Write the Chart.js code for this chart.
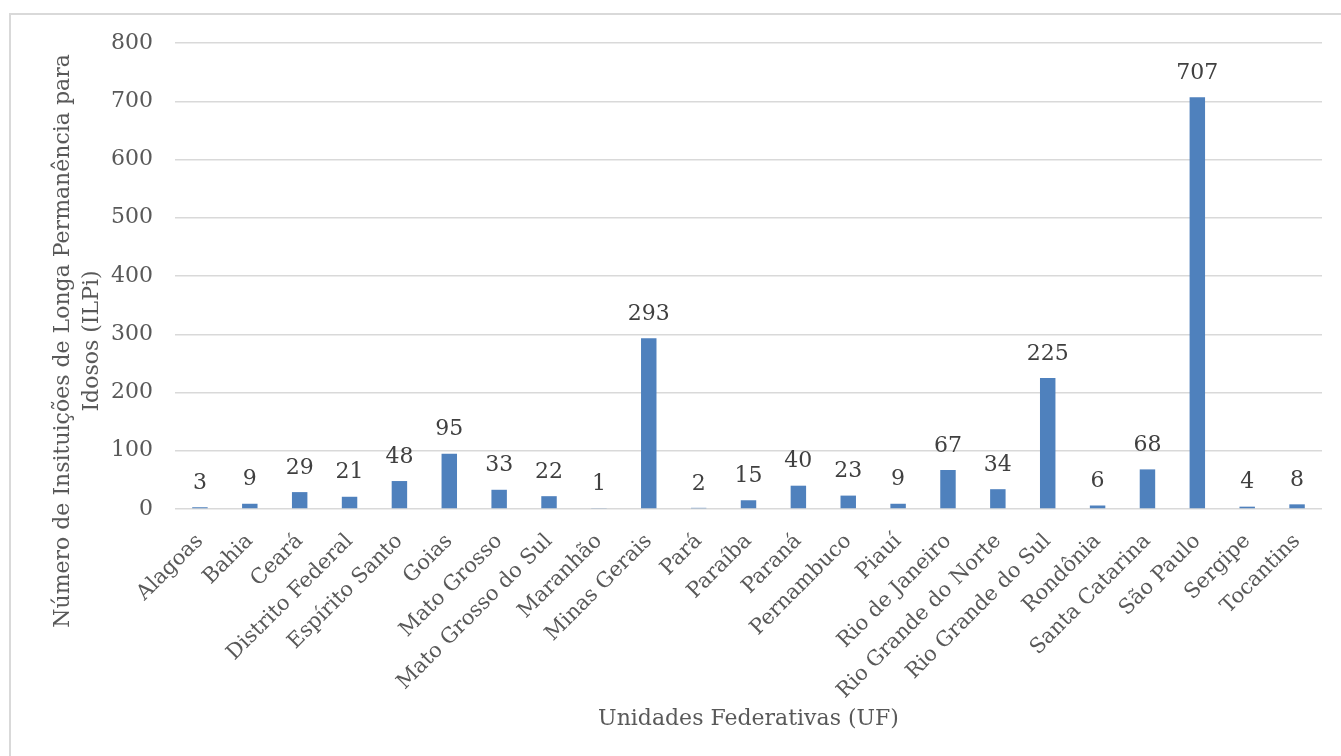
<!DOCTYPE html>
<html>
<head>
<meta charset="utf-8">
<script src="https://cdn.jsdelivr.net/npm/chart.js@4"></script>
<style>
  body { margin: 0; background: #fff; overflow: hidden; }
  #frame { position: absolute; left: 9px; top: 13px; width: 1400px; height: 800px; border: 2px solid #d9d9d9; }
  #myChart { position: absolute; left: 0; top: 0; }
</style>
</head>
<body>
<div id="frame"></div>
<canvas id="myChart" width="1341" height="756"></canvas>
<script>
const states = ['Alagoas', 'Bahia', 'Ceará', 'Distrito Federal', 'Espírito Santo', 'Goias', 'Mato Grosso',
  'Mato Grosso do Sul', 'Maranhão', 'Minas Gerais', 'Pará', 'Paraíba', 'Paraná', 'Pernambuco', 'Piauí',
  'Rio de Janeiro', 'Rio Grande do Norte', 'Rio Grande do Sul', 'Rondônia', 'Santa Catarina', 'São Paulo',
  'Sergipe', 'Tocantins'];
const ilpiCount = [3, 9, 29, 21, 48, 95, 33, 22, 1, 293, 2, 15, 40, 23, 9, 67, 34, 225, 6, 68, 707, 4, 8];
const yTicks = [0, 100, 200, 300, 400, 500, 600, 700, 800];
const yTitle = ['Número de Insituições de Longa Permanência para', 'Idosos (ILPi)'];

const FONT = 'DejaVu Serif';
const TEXT_COLOR = '#595959';

// draws the value above each bar
const barValues = {
  id: 'barValues',
  afterDatasetsDraw(chart) {
    const ctx = chart.ctx;
    const meta = chart.getDatasetMeta(0);
    ctx.save();
    ctx.font = `22px "${FONT}"`;
    ctx.fillStyle = '#404040';
    ctx.textAlign = 'center';
    ctx.textBaseline = 'bottom';
    meta.data.forEach((bar, i) => {
      ctx.fillText(ilpiCount[i], bar.x, bar.y - 13);
    });
    ctx.restore();
  }
};

// y title, Excel centres it lower than the plot area middle
const yAxisTitle = {
  id: 'yAxisTitle',
  afterDraw(chart) {
    const ctx = chart.ctx;
    ctx.save();
    ctx.font = `22px "${FONT}"`;
    ctx.fillStyle = TEXT_COLOR;
    ctx.textAlign = 'center';
    ctx.textBaseline = 'middle';
    ctx.translate(63, 341);
    ctx.rotate(-Math.PI / 2);
    yTitle.forEach((line, i) => ctx.fillText(line, 0, i * 29));
    ctx.restore();
  }
};

const ctx = document.getElementById('myChart');

new Chart(ctx, {
  type: 'bar',
  data: {
    labels: states,
    datasets: [{
      data: ilpiCount,
      backgroundColor: '#4f81bd',
      borderWidth: 0,
      barPercentage: 0.31,
      categoryPercentage: 1
    }]
  },
  options: {
    responsive: false,
    animation: false,
    layout: { padding: { top: 43, right: 19, left: 0, bottom: 24 } },
    plugins: {
      legend: { display: false },
      tooltip: { enabled: false }
    },
    scales: {
      x: {
        grid: { display: false },
        border: { display: false },
        ticks: {
          minRotation: 45,
          maxRotation: 45,
          autoSkip: false,
          padding: 12,
          color: TEXT_COLOR,
          font: { family: FONT, size: 21 }
        },
        title: {
          display: true,
          text: 'Unidades Federativas (UF)',
          color: TEXT_COLOR,
          font: { family: FONT, size: 22 },
          padding: { top: 0, bottom: 0 }
        },
        afterFit(axis) { axis.height = 756 - 24 - 509; }
      },
      y: {
        min: 0,
        max: 800,
        afterBuildTicks(axis) { axis.ticks = yTicks.map(v => ({ value: v })); },
        grid: { color: '#d9d9d9', lineWidth: 1.5, drawTicks: false },
        border: { display: false },
        ticks: {
          padding: 22,
          color: TEXT_COLOR,
          font: { family: FONT, size: 22 }
        },
        afterFit(axis) { axis.width = 175; }
      }
    }
  },
  plugins: [barValues, yAxisTitle]
});
</script>
</body>
</html>
